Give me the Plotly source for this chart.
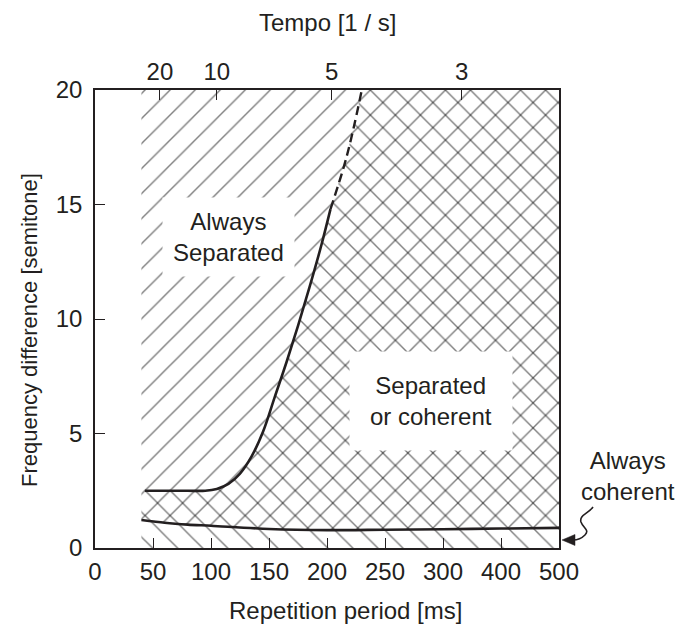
import plotly.graph_objects as go

# ---------------- data ----------------
x_tick_ms = [0, 50, 100, 150, 200, 250, 300, 400, 500]
x_tick_labels = ["0", "50", "100", "150", "200", "250", "300", "400", "500"]
y_tick_vals = [0, 5, 10, 15, 20]
y_tick_labels = ["0", "5", "10", "15", "20"]
tempo_tick_ms = [56, 105, 204, 332]          # where the tempo ticks sit on the period axis
tempo_tick_labels = ["20", "10", "5", "3"]

# upper boundary (always separated / separated-or-coherent)
upper_ms = [43, 60, 80, 95, 105, 115, 125, 135, 145, 155, 165, 175, 185, 195, 203]
upper_st = [2.5, 2.5, 2.5, 2.5, 2.58, 2.8, 3.25, 4.0, 5.1, 6.6, 8.1, 9.7, 11.4, 13.2, 14.8]
# extrapolated (dashed) part
dashed_ms = [203, 217, 230]
dashed_st = [14.8, 17.1, 20.0]
# lower boundary (always coherent)
lower_ms = [40, 60, 80, 100, 150, 200, 250, 300, 400, 500]
lower_st = [1.22, 1.10, 1.02, 0.97, 0.83, 0.78, 0.80, 0.82, 0.85, 0.88]

region_start_ms = 40
region_end_ms = 500
y_max = 20

# ---------------- axis scale: linear to 300 ms, compressed x0.5 beyond ----------------
def to_axis(ms):
    return ms if ms <= 300 else 300 + (ms - 300) / 2.0

def mapx(lst):
    return [to_axis(v) for v in lst]

INK = "#231f20"
FONT = "Liberation Sans, Arial, Helvetica, sans-serif"

fig = go.Figure()

pat = dict(size=17.7, solidity=0.08, fgcolor="#000000", bgcolor="rgba(0,0,0,0)")

# "/" hatch: everything above the lower boundary
sep_x = mapx(lower_ms) + mapx([region_end_ms, region_start_ms])
sep_y = lower_st + [y_max, y_max]
fig.add_trace(go.Scatter(
    x=sep_x, y=sep_y, mode="lines", fill="toself",
    fillcolor="rgba(0,0,0,0)", line=dict(width=0),
    fillpattern=dict(shape="/", **pat), hoverinfo="skip", showlegend=False))

# "\" hatch: everything below the upper boundary
coh_x = (mapx([region_start_ms, region_end_ms, region_end_ms])
         + mapx(dashed_ms[::-1]) + mapx(upper_ms[::-1][1:]) + mapx([region_start_ms]))
coh_y = ([0, 0, y_max] + dashed_st[::-1] + upper_st[::-1][1:] + [upper_st[0]])
fig.add_trace(go.Scatter(
    x=coh_x, y=coh_y, mode="lines", fill="toself",
    fillcolor="rgba(0,0,0,0)", line=dict(width=0),
    fillpattern=dict(shape="\\", **pat), hoverinfo="skip", showlegend=False))

# boundary curves
fig.add_trace(go.Scatter(x=mapx(upper_ms), y=upper_st, mode="lines",
                         line=dict(color=INK, width=2.6, shape="spline", smoothing=1.0),
                         hoverinfo="skip", showlegend=False))
fig.add_trace(go.Scatter(x=mapx(dashed_ms), y=dashed_st, mode="lines",
                         line=dict(color=INK, width=2.4, dash="9px,5px", shape="spline"),
                         hoverinfo="skip", showlegend=False))
fig.add_trace(go.Scatter(x=mapx(lower_ms), y=lower_st, mode="lines",
                         line=dict(color=INK, width=2.6, shape="spline", smoothing=0.8),
                         hoverinfo="skip", showlegend=False))
# dummy trace on top axis so it is drawn
fig.add_trace(go.Scatter(x=[to_axis(0)], y=[0], xaxis="x2", mode="markers",
                         marker=dict(opacity=0), hoverinfo="skip", showlegend=False))

L, R, T, B = 95, 121, 90, 78
W, H = 680, 626
pw, ph = W - L - R, H - T - B

def px(x):
    return (x - L) / pw

def py(y):
    return (H - B - y) / ph

tickfont = dict(family=FONT, size=24, color=INK)
fig.update_layout(
    width=W, height=H,
    margin=dict(l=L, r=R, t=T, b=B),
    paper_bgcolor="white", plot_bgcolor="white",
    font=dict(family=FONT, color=INK),
    xaxis=dict(range=[0, to_axis(500)], tickvals=mapx(x_tick_ms), ticktext=x_tick_labels,
               ticks="inside", ticklen=10, tickwidth=1.3, tickcolor=INK,
               showline=True, linecolor=INK, linewidth=1.6, mirror=True,
               showgrid=False, zeroline=False, tickfont=tickfont, ticklabelstandoff=1),
    xaxis2=dict(range=[0, to_axis(500)], overlaying="x", side="top", anchor="y",
                tickvals=mapx(tempo_tick_ms), ticktext=tempo_tick_labels,
                ticks="inside", ticklen=10, tickwidth=1.3, tickcolor=INK,
                showline=False, showgrid=False, zeroline=False, tickfont=tickfont,
                ticklabelstandoff=4),
    yaxis=dict(range=[0, y_max], tickvals=y_tick_vals, ticktext=y_tick_labels,
               ticks="inside", ticklen=10, tickwidth=1.3, tickcolor=INK,
               showline=True, linecolor=INK, linewidth=1.6, mirror=True,
               showgrid=False, zeroline=False, tickfont=tickfont, ticklabelstandoff=6),
)

ann_font = dict(family=FONT, size=24, color=INK)
fig.add_annotation(x=to_axis(115), y=13.6, xref="x", yref="y", showarrow=False,
                   xanchor="center", yanchor="middle",
                   text="Always<br>Separated", font=ann_font, align="center",
                   bgcolor="white", borderpad=10)
fig.add_annotation(x=to_axis(290), y=6.4, xref="x", yref="y", showarrow=False,
                   xanchor="center", yanchor="middle",
                   text="Separated<br>or coherent", font=ann_font, align="center",
                   bgcolor="white", borderpad=20)
fig.add_annotation(x=px(628), y=py(476), xref="paper", yref="paper", showarrow=False,
                   xanchor="center", yanchor="middle",
                   text="Always<br>coherent", font=dict(family=FONT, size=24, color=INK),
                   align="center")

# axis titles
fig.add_annotation(x=px(345), y=py(610), xref="paper", yref="paper", showarrow=False,
                   xanchor="center", yanchor="middle",
                   text="Repetition period [ms]", font=dict(family=FONT, size=24, color=INK))
fig.add_annotation(x=px(327), y=py(22), xref="paper", yref="paper", showarrow=False,
                   xanchor="center", yanchor="middle",
                   text="Tempo [1 / s]", font=dict(family=FONT, size=24, color=INK))
fig.add_annotation(x=px(29), y=py(330), xref="paper", yref="paper", showarrow=False,
                   xanchor="center", yanchor="middle",
                   text="Frequency difference [semitone]", textangle=-90,
                   font=dict(family=FONT, size=22, color=INK))

# squiggly arrow pointing at the always-coherent band
def path_from(cmds):
    out = []
    for c in cmds:
        op, pts = c[0], c[1:]
        out.append(op + " " + " ".join(f"{px(a):.4f},{py(b):.4f}" for a, b in pts))
    return " ".join(out)

squiggle = path_from([("M", (593, 507)), ("C", (588, 514), (579, 515), (581, 522)),
                      ("C", (583, 528), (590, 530), (585, 535)),
                      ("C", (581, 539), (578, 540), (573, 540))])
fig.add_shape(type="path", path=squiggle, xref="paper", yref="paper",
              line=dict(color=INK, width=1.6))
head = path_from([("M", (562, 540)), ("L", (575, 534.5)), ("L", (575, 545.5))]) + " Z"
fig.add_shape(type="path", path=head, xref="paper", yref="paper",
              line=dict(color=INK, width=0.5), fillcolor=INK)

fig.write_html("out.html")
